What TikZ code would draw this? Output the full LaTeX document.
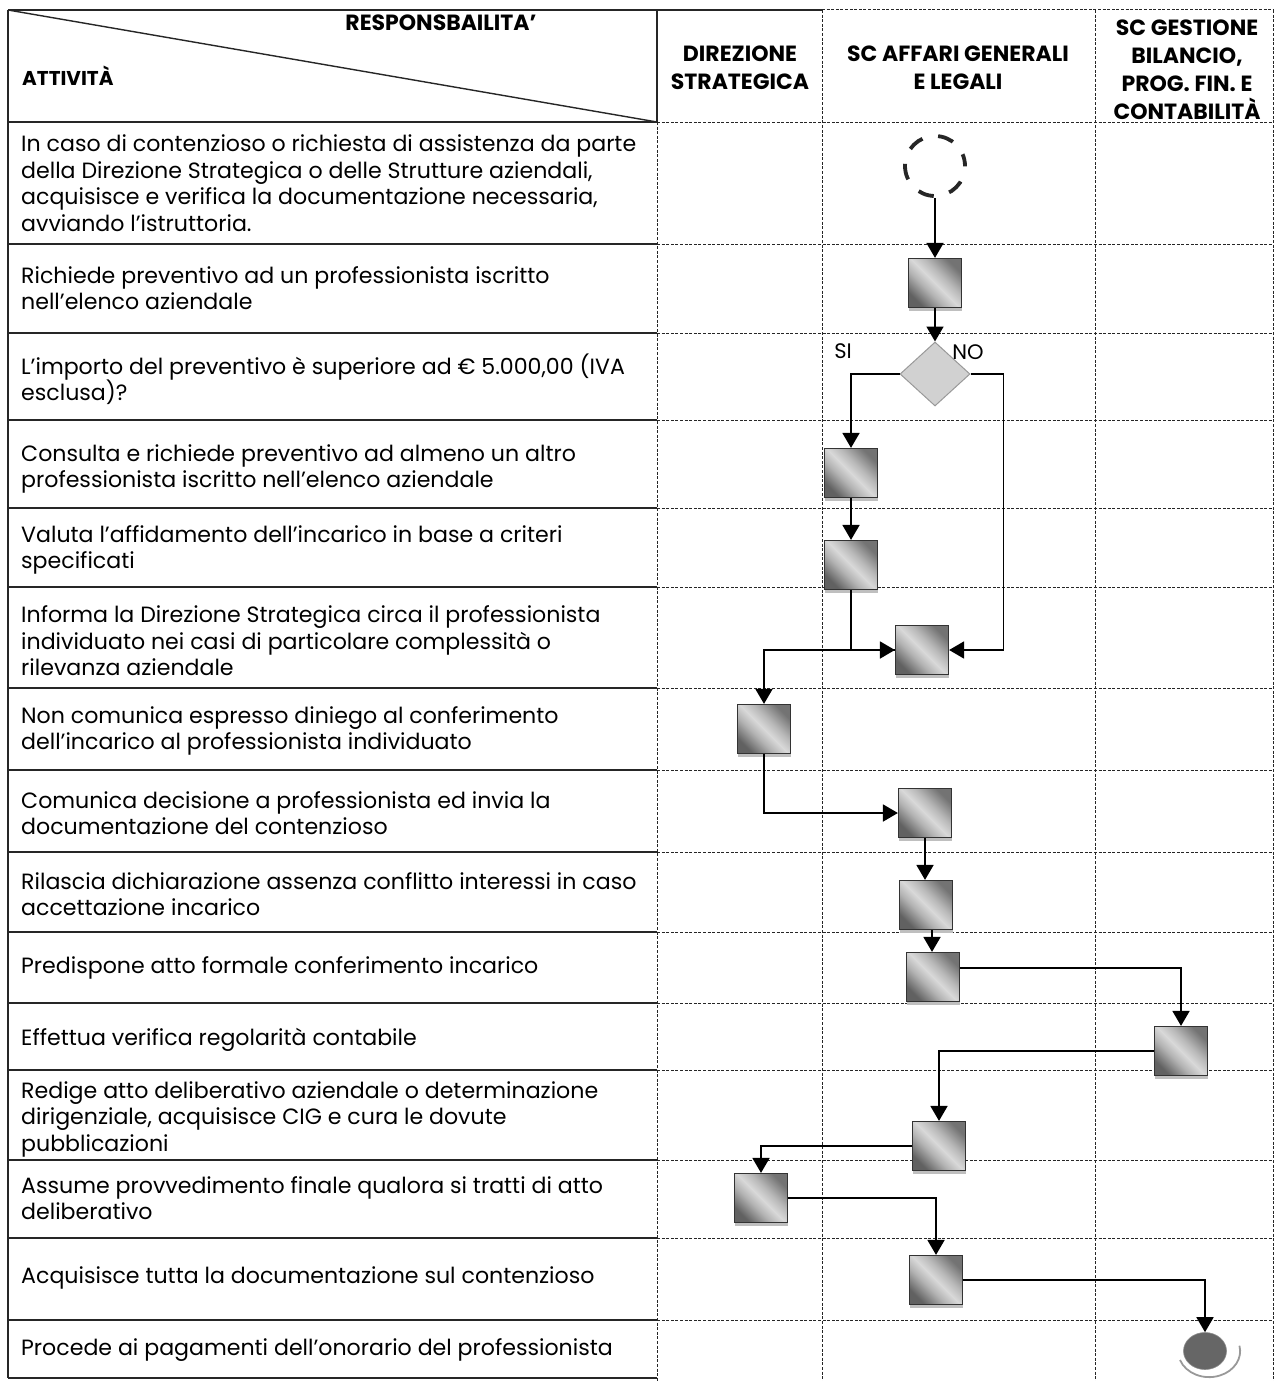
\documentclass[tikz,border=0pt]{standalone}
\usepackage{fontspec}
\setmainfont{Poppins}
\usetikzlibrary{arrows.meta,shapes.geometric,shadows}

\pgfdeclarehorizontalshading{boxshade}{100bp}{color(0bp)=(black!62); color(25bp)=(black!62); color(40bp)=(black!30); color(50bp)=(black!15); color(60bp)=(black!28); color(75bp)=(black!55); color(100bp)=(black!55)}

\tikzset{
  solidline/.style={line width=1.4pt, draw=black!85},
  gridline/.style={line width=1pt, draw=black!85, dash pattern=on 3pt off 1.6pt},
  acttext/.style={anchor=west, align=left, inner sep=0pt, font=\fontsize{22.1}{26.5}\selectfont},
  headtext/.style={align=center, inner sep=0pt, font=\bfseries\fontsize{22}{28}\selectfont},
  fbox/.style={draw=black!80, line width=1.2pt, minimum width=53pt, minimum height=49pt, inner sep=0pt,
    shading=boxshade, shading angle=45,
    drop shadow={shadow xshift=0.5pt, shadow yshift=-3pt, fill=black!25, opacity=1}},
  decis/.style={diamond, draw=black!40, line width=1pt, fill=black!18, minimum width=70pt, minimum height=64pt, inner sep=0pt, aspect=1.1},
  startc/.style={circle, draw=black!85, line width=3.8pt, minimum size=60pt, inner sep=0pt, dash pattern=on 16pt off 16pt, dash phase=4pt},
  endc/.style={ellipse, fill=black!60, draw=black!45, line width=0.6pt, minimum width=43pt, minimum height=37pt, inner sep=0pt},
  flow/.style={line width=1.8pt, draw=black, -{Triangle[length=15pt,width=17pt]}},
  lbl/.style={inner sep=0pt, font=\fontsize{21}{24}\selectfont}
}

\begin{document}
\begin{tikzpicture}[x=1pt,y=-1pt]
\useasboundingbox (0,0) rectangle (1275,1381);
\fill[white] (0,0) rectangle (1275,1381);

% ---------- table lines ----------
\draw[solidline] (8,10) -- (822,10);
\draw[gridline] (822,10) -- (1273,10);
\draw[solidline] (8,10) -- (8,1378);
\draw[solidline] (657,10) -- (657,122);
\draw[solidline] (8,10) -- (657,122);
\foreach \yy in {122,244,333,420,508,587,688,770,852,932,1003,1070,1160,1238,1320}{
  \draw[solidline] (8,\yy) -- (657,\yy);
  \draw[gridline] (657,\yy) -- (1273,\yy);
}
\draw[solidline] (8,1378) -- (657,1378);
\draw[gridline] (657,122) -- (657,1381);
\draw[gridline] (822,10) -- (822,1381);
\draw[gridline] (1095,10) -- (1095,1381);
\draw[gridline] (1273,10) -- (1273,1381);

% ---------- header texts ----------
\node[headtext] (hresp) at (441,23) {RESPONSBAILITA'};
\node[headtext, anchor=west, font=\bfseries\fontsize{20}{24}\selectfont] (hatt) at (22,76) {ATTIVITÀ};
\node[headtext] (hdir) at (740,68) {DIREZIONE\\STRATEGICA};
\node[headtext] (haff) at (958,68) {SC AFFARI GENERALI\\E LEGALI};
\node[headtext] (hbil) at (1187,70) {SC GESTIONE\\BILANCIO,\\PROG. FIN. E\\CONTABILITÀ};

% ---------- activity texts ----------
\node[acttext] (t1) at (21,183) {In caso di contenzioso o richiesta di assistenza da parte\\della Direzione Strategica o delle Strutture aziendali,\\acquisisce e verifica la documentazione necessaria,\\avviando l’istruttoria.};
\node[acttext] (t2) at (21,288) {Richiede preventivo ad un professionista iscritto\\nell’elenco aziendale};
\node[acttext] (t3) at (21,379) {L’importo del preventivo è superiore ad € 5.000,00 (IVA\\esclusa)?};
\node[acttext] (t4) at (21,469) {Consulta e richiede preventivo ad almeno un altro\\professionista iscritto nell’elenco aziendale};
\node[acttext] (t5) at (21,550) {Valuta l’affidamento dell’incarico in base a criteri\\specificati};
\node[acttext] (t6) at (21,641) {Informa la Direzione Strategica circa il professionista\\individuato nei casi di particolare complessità o\\rilevanza aziendale};
\node[acttext] (t7) at (21,731) {Non comunica espresso diniego al conferimento\\dell’incarico al professionista individuato};
\node[acttext] (t8) at (21,813) {Comunica decisione a professionista ed invia la\\documentazione del contenzioso};
\node[acttext] (t9) at (21,894) {Rilascia dichiarazione assenza conflitto interessi in caso\\accettazione incarico};
\node[acttext] (t10) at (21,968) {Predispone atto formale conferimento incarico};
\node[acttext] (t11) at (21,1040) {Effettua verifica regolarità contabile};
\node[acttext] (t12) at (21,1119) {Redige atto deliberativo aziendale o determinazione\\dirigenziale, acquisisce CIG e cura le dovute\\pubblicazioni};
\node[acttext] (t13) at (21,1198) {Assume provvedimento finale qualora si tratti di atto\\deliberativo};
\node[acttext] (t14) at (21,1278) {Acquisisce tutta la documentazione sul contenzioso};
\node[acttext] (t15) at (21,1350) {Procede ai pagamenti dell’onorario del professionista};

% ---------- flow elements ----------
\node[startc] (s) at (935,166) {};
\node[fbox] (b1) at (935,283) {};
\node[decis] (d) at (935,374) {};
\node[lbl] (si) at (843,351) {SI};
\node[lbl] (no) at (968,352) {NO};
\node[fbox] (b4) at (851,473) {};
\node[fbox] (b5) at (851,565) {};
\node[fbox] (b6) at (922,650) {};
\node[fbox] (b7) at (764,729) {};
\node[fbox] (b8) at (925,813) {};
\node[fbox] (b9) at (926,905) {};
\node[fbox] (b10) at (933,977) {};
\node[fbox] (b11) at (1181,1051) {};
\node[fbox] (b12) at (939,1146) {};
\node[fbox] (b13) at (761,1198) {};
\node[fbox] (b14) at (936,1280) {};
\node[endc] (e) at (1205,1351) {};
\draw[black!40, line width=1.8pt] (1180,1360) arc[start angle=160, end angle=-12, x radius=31, y radius=26];

% ---------- connectors ----------
\draw[flow] (s) -- (b1);
\draw[flow] (b1) -- (d);
\draw[flow] (d.west) -| (b4.north);
\draw[flow] (b4) -- (b5);
\draw[flow] (b5.south) |- (b6.west);
\draw[flow] (d.east) -- ++(33,0) |- (b6.east);
\draw[flow] (b6.west) -| (b7.north);
\draw[flow] (b7.south) |- (b8.west);
\draw[flow] (b8.south) -- (b9.north -| b8.south);
\draw[flow] ([xshift=6pt]b9.south) -- ([xshift=-1pt]b10.north);
\draw[flow] ([yshift=9pt]b10.east) -| (b11.north);
\draw[flow] (b11.west) -| (b12.north);
\draw[flow] (b12.west) -| (b13.north);
\draw[flow] (b13.east) -| (b14.north);
\draw[flow] (b14.east) -| (e.north);
\end{tikzpicture}
\end{document}
